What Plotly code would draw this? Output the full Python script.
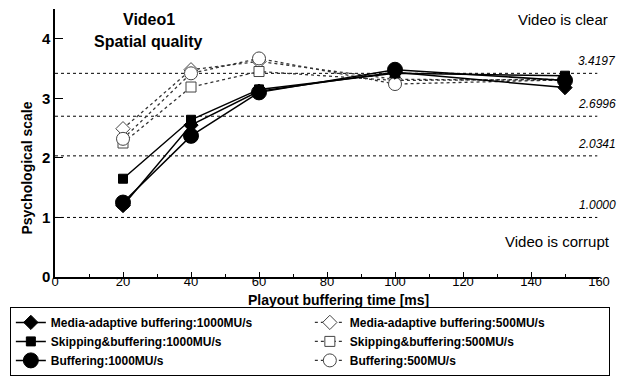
import plotly.graph_objects as go

x_vals = [20, 40, 60, 100, 150]
ma_1000 = [1.20, 2.55, 3.12, 3.44, 3.18]
sk_1000 = [1.65, 2.64, 3.15, 3.42, 3.38]
bf_1000 = [1.25, 2.37, 3.10, 3.48, 3.30]
ma_500 = [2.49, 3.48, 3.62, 3.32, 3.30]
sk_500 = [2.25, 3.19, 3.45, 3.30, 3.32]
bf_500 = [2.32, 3.42, 3.67, 3.24, 3.31]

ref_vals = [3.4197, 2.6996, 2.0341, 1.0000]
ref_labels = ["3.4197", "2.6996", "2.0341", "1.0000"]

FONT = "Liberation Sans, Arial, sans-serif"

fig = go.Figure()

series = [
    # name, y, symbol, filled, dashed, size, rank
    ("Media-adaptive buffering:500MU/s", ma_500, "diamond", False, True, 11, 2),
    ("Skipping&buffering:500MU/s", sk_500, "square", False, True, 10, 4),
    ("Buffering:500MU/s", bf_500, "circle", False, True, 13, 6),
    ("Media-adaptive buffering:1000MU/s", ma_1000, "diamond", True, False, 11, 1),
    ("Skipping&buffering:1000MU/s", sk_1000, "square", True, False, 9, 3),
    ("Buffering:1000MU/s", bf_1000, "circle", True, False, 15, 5),
]

for name, y, sym, filled, dashed, size, rank in series:
    fig.add_trace(go.Scatter(
        x=x_vals, y=y, name=name, mode="lines+markers",
        line=dict(color="#333333" if dashed else "black", width=1.3 if dashed else 1.5,
                  dash="3px,3px" if dashed else "solid"),
        marker=dict(symbol=sym, size=size,
                    color="black" if filled else "white",
                    line=dict(color="black" if filled else "#444444", width=1)),
        legendrank=rank,
    ))

for v, lab in zip(ref_vals, ref_labels):
    fig.add_shape(type="line", xref="x", yref="y", x0=0, x1=159.5, y0=v, y1=v,
                  line=dict(color="black", width=1, dash="dot"), layer="below")
    fig.add_annotation(xref="paper", yref="y", x=1.035, y=v, text=lab,
                       xanchor="right", yanchor="bottom", yshift=3, showarrow=False,
                       font=dict(family=FONT, size=12, color="black", style="italic"))

fig.add_annotation(xref="x", yref="y", x=27.5, y=4.32, text="<b>Video1</b>",
                   showarrow=False, font=dict(family=FONT, size=16, color="black"))
fig.add_annotation(xref="x", yref="y", x=27.5, y=3.95, text="<b>Spatial quality</b>",
                   showarrow=False, font=dict(family=FONT, size=16, color="black"))
fig.add_annotation(xref="paper", yref="y", x=1.02, y=4.32, text="Video is clear",
                   xanchor="right", showarrow=False, font=dict(family=FONT, size=15, color="black"))
fig.add_annotation(xref="paper", yref="y", x=1.024, y=0.59, text="Video is corrupt",
                   xanchor="right", showarrow=False, font=dict(family=FONT, size=15, color="black"))
fig.add_annotation(xref="paper", yref="y", x=0, xshift=-38, y=1.82, text="<b>Psychological scale</b>",
                   textangle=-90, showarrow=False, font=dict(family=FONT, size=14, color="black"))
fig.add_annotation(xref="x", yref="paper", x=83.5, y=0, yshift=-23, yanchor="middle",
                   text="<b>Playout buffering time [ms]</b>",
                   showarrow=False, font=dict(family=FONT, size=14, color="black"))

fig.update_layout(
    width=618, height=377,
    margin=dict(l=55, r=19, t=9, b=100, autoexpand=False),
    paper_bgcolor="white", plot_bgcolor="white",
    font=dict(family=FONT, color="black"),
    showlegend=True,
    legend=dict(orientation="h", x=-0.083, y=-0.369, xanchor="left", yanchor="bottom",
                entrywidth=254, entrywidthmode="pixels",
                bordercolor="black", borderwidth=1, bgcolor="white",
                font=dict(family=FONT, size=12, color="black", weight="bold"),
                tracegroupgap=0, itemwidth=30),
    xaxis=dict(range=[0, 160], tickvals=[0, 20, 40, 60, 80, 100, 120, 140, 160],
               ticks="inside", ticklen=5, tickcolor="black", showline=True, linecolor="black",
               linewidth=1.5, showgrid=False, zeroline=False, ticklabelstandoff=-8,
               minor=dict(dtick=10, ticks="inside", ticklen=3, tickcolor="black", showgrid=False),
               tickfont=dict(family=FONT, size=13, color="black")),
    yaxis=dict(range=[0, 4.5], tickvals=[0, 1, 2, 3, 4],
               ticks="inside", ticklen=8, tickcolor="black", showline=True, linecolor="black",
               linewidth=1.5, showgrid=False, zeroline=False,
               tickfont=dict(family=FONT, size=15, color="black", weight="bold")),
)

fig.write_html("out.html")
